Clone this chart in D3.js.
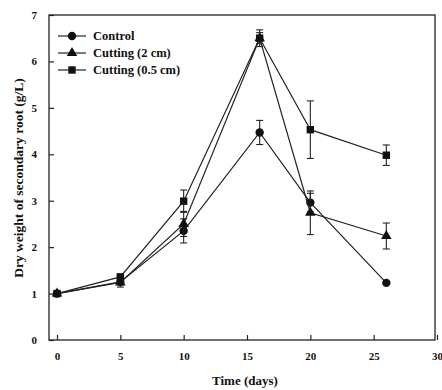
<!DOCTYPE html>
<html>
<head>
<meta charset="utf-8">
<script src="https://cdn.jsdelivr.net/npm/d3@7"></script>
<style>
  body { margin: 0; background: #fff; }
  svg text { font-family: "Liberation Serif", "DejaVu Serif", serif; font-weight: bold; fill: #111; }
</style>
</head>
<body>
<svg id="chart" width="442" height="390"></svg>
<script>
// -- DATA --
const days = [0, 5, 10, 16, 20, 26];
const seriesNames = ["Control", "Cutting (2 cm)", "Cutting (0.5 cm)"];
const controlVals = [1.0, 1.25, 2.35, 4.47, 2.96, 1.23];
const controlErr = [0, 0, 0.26, 0.26, 0.2, 0];
const cut2Vals = [1.0, 1.24, 2.5, 6.5, 2.74, 2.24];
const cut2Err = [0, 0.1, 0.27, 0.12, 0.47, 0.28];
const cut05Vals = [1.0, 1.36, 2.99, 6.5, 4.53, 3.98];
const cut05Err = [0, 0.05, 0.24, 0.18, 0.62, 0.22];
const xTicks = [0, 5, 10, 15, 20, 25, 30];
const yTicks = [0, 1, 2, 3, 4, 5, 6, 7];

const series = [
  { name: seriesNames[0], vals: controlVals, err: controlErr, shape: d3.symbolCircle, size: 55 },
  { name: seriesNames[1], vals: cut2Vals, err: cut2Err, shape: d3.symbolTriangle, size: 48 },
  { name: seriesNames[2], vals: cut05Vals, err: cut05Err, shape: d3.symbolSquare, size: 55 }
];

const svg = d3.select("#chart");
const m = { left: 49, right: 435, top: 15, bottom: 340 };

const x = d3.scaleLinear().domain([0, 30]).range([57, 437]);
const y = d3.scaleLinear().domain([0, 7]).range([m.bottom, m.top]);

// -- FRAME --
svg.append("rect")
  .attr("x", m.left).attr("y", m.top)
  .attr("width", m.right - m.left).attr("height", m.bottom - m.top)
  .attr("fill", "none").attr("stroke", "#222").attr("stroke-width", 1.3);

// -- AXES (ticks inside) --
const xAxis = svg.append("g").attr("transform", `translate(0,${m.bottom})`)
  .call(d3.axisBottom(x).tickValues(xTicks).tickFormat(d3.format("d")).tickSize(-5).tickPadding(12));
xAxis.select(".domain").remove();
xAxis.selectAll("line").attr("stroke", "#222").attr("stroke-width", 1.2);
xAxis.selectAll("text").attr("font-size", 11).attr("font-family", "Liberation Serif").attr("font-weight", "bold");

const yAxis = svg.append("g").attr("transform", `translate(${m.left},0)`)
  .call(d3.axisLeft(y).tickValues(yTicks).tickFormat(d3.format("d")).tickSize(-5).tickPadding(12));
yAxis.select(".domain").remove();
yAxis.selectAll("line").attr("stroke", "#222").attr("stroke-width", 1.2);
yAxis.selectAll("text").attr("font-size", 11).attr("font-family", "Liberation Serif").attr("font-weight", "bold");

// -- LINES, ERRORS, MARKERS --
const line = d3.line().x((d, i) => x(days[i])).y(d => y(d));

series.forEach(s => {
  svg.append("path")
    .attr("d", line(s.vals))
    .attr("fill", "none").attr("stroke", "#222").attr("stroke-width", 1.2);

  const eb = svg.append("g");
  s.vals.forEach((v, i) => {
    if (!s.err[i]) return;
    const cx = x(days[i]);
    eb.append("line").attr("x1", cx).attr("x2", cx)
      .attr("y1", y(v - s.err[i])).attr("y2", y(v + s.err[i]))
      .attr("stroke", "#222").attr("stroke-width", 1.1);
    [v - s.err[i], v + s.err[i]].forEach(e => {
      eb.append("line").attr("x1", cx - 3.5).attr("x2", cx + 3.5)
        .attr("y1", y(e)).attr("y2", y(e))
        .attr("stroke", "#222").attr("stroke-width", 1.1);
    });
  });

  svg.append("g").selectAll("path")
    .data(s.vals)
    .enter().append("path")
    .attr("d", d3.symbol().type(s.shape).size(s.size))
    .attr("transform", (d, i) => `translate(${x(days[i])},${y(d)})`)
    .attr("fill", "#111");
});

// -- LEGEND --
const legend = svg.append("g");
series.forEach((s, i) => {
  const ly = 36 + i * 17;
  legend.append("line").attr("x1", 58).attr("x2", 86).attr("y1", ly).attr("y2", ly)
    .attr("stroke", "#222").attr("stroke-width", 1.2);
  legend.append("path")
    .attr("d", d3.symbol().type(s.shape).size(s.size))
    .attr("transform", `translate(72,${ly})`).attr("fill", "#111");
  legend.append("text").attr("x", 93).attr("y", ly + 4)
    .attr("font-size", 12.5).text(s.name);
});

// -- AXIS TITLES --
svg.append("text").attr("x", 245).attr("y", 385)
  .attr("text-anchor", "middle").attr("font-size", 13).text("Time (days)");
svg.append("text")
  .attr("transform", "translate(23,178) rotate(-90)")
  .attr("text-anchor", "middle").attr("font-size", 13.5)
  .text("Dry weight of secondary root (g/L)");
</script>
</body>
</html>
